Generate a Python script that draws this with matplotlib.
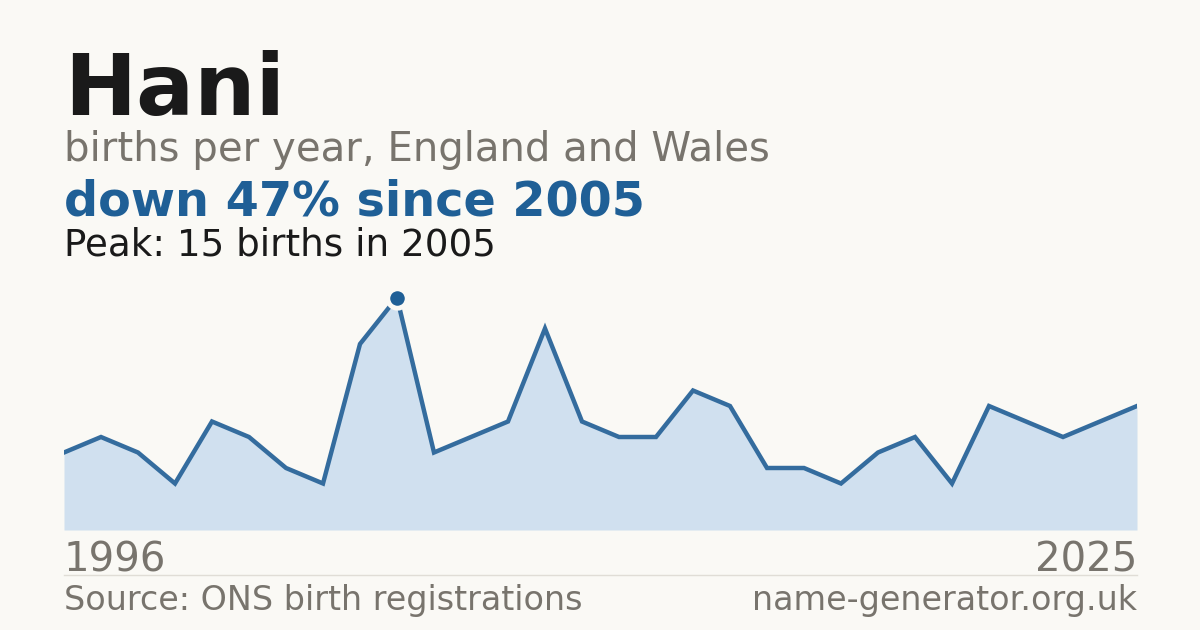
import matplotlib.pyplot as plt
from matplotlib.lines import Line2D

# Hani: births per year, England and Wales
years = list(range(1996, 2026))
births = [5, 6, 5, 3, 7, 6, 4, 3, 12, 15, 5, 6, 7, 13, 7, 6, 6, 9, 8, 4,
          4, 3, 5, 6, 3, 8, 7, 6, 7, 8]
peak_year = 2005
peak_value = 15

bg = "#faf9f5"
line_col = "#346c9e"
fill_col = "#d0e0ef"
dark_blue = "#1f5f96"
grey = "#78746d"

W, H = 1200, 630
fig = plt.figure(figsize=(12, 6.3), dpi=100, facecolor=bg)


def fy(py):
    return 1 - py / H


ax = fig.add_axes([64 / W, fy(530), 1073 / W, 250 / H])
ax.set_facecolor(bg)
ax.fill_between(years, births, 0, color=fill_col, lw=0)
ax.plot(years, births, color=line_col, lw=3.2, solid_joinstyle="miter")
ax.plot([peak_year], [peak_value], marker="o", ms=14, color=dark_blue,
        mec=bg, mew=3.5, zorder=5)
ax.set_xlim(years[0], years[-1])
ax.set_ylim(0, 250 / 15.5)
ax.axis("off")

fig.text(64 / W, fy(115), "Hani", fontsize=62, fontweight="bold",
         color="#1a1a1a", va="baseline")
fig.text(64 / W, fy(161), "births per year, England and Wales", fontsize=29,
         color=grey, va="baseline")
fig.text(64 / W, fy(215), "down 47% since 2005", fontsize=34.4, fontweight="bold",
         color=dark_blue, va="baseline")
fig.text(64 / W, fy(255), "Peak: 15 births in 2005", fontsize=26.8,
         color="#1a1a1a", va="baseline")

fig.text(64 / W, fy(571), str(years[0]), fontsize=29, color=grey, va="baseline")
fig.text(1137 / W, fy(571), str(years[-1]), fontsize=29, color=grey,
         va="baseline", ha="right")
fig.add_artist(Line2D([64 / W, 1137 / W], [fy(575), fy(575)], color="#e0ddd6",
                      lw=1, transform=fig.transFigure))
fig.text(64 / W, fy(610), "Source: ONS birth registrations", fontsize=24,
         color=grey, va="baseline")
fig.text(1137 / W, fy(610), "name-generator.org.uk", fontsize=24, color=grey,
         va="baseline", ha="right")

fig.savefig("out.png", dpi=100, facecolor=bg)
